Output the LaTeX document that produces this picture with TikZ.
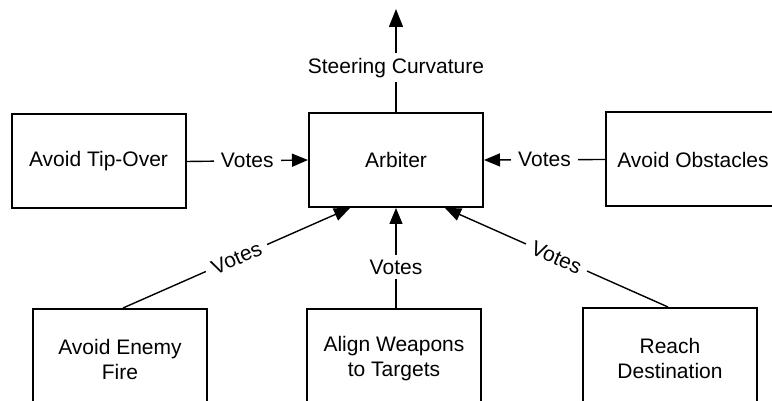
\documentclass[tikz,border=0pt]{standalone}
\usepackage{fontspec}
\setmainfont{Liberation Sans}
\usetikzlibrary{arrows.meta,calc}
\begin{document}
\begin{tikzpicture}[x=1pt,y=-1pt,
  txt/.style={font=\fontsize{21}{25}\selectfont},
  box/.style={txt, draw, line width=2pt, minimum width=174pt, minimum height=94pt, inner sep=0pt, align=center},
  lowbox/.style={box, minimum height=100pt},
  conn/.style={line width=1.4pt},
  arr/.style={conn, -{Triangle[length=16pt,width=13pt]}},
  lbl/.style={txt, fill=white, inner xsep=7pt, inner ysep=5pt}]
\useasboundingbox (0,0) rectangle (772,401);
\clip (0,0) rectangle (772,401);
\node[box] (tip) at (98.5,161.5) {Avoid Tip-Over};
\node[box] (arb) at (396,160) {Arbiter};
\node[box] (obs) at (693,159.5) {Avoid Obstacles};
\node[lowbox] (fire) at (120,359) {Avoid Enemy\\Fire};
\node[lowbox] (align) at (394,359) {Align Weapons\\to Targets};
\node[lowbox] (reach) at (670,358) {Reach\\Destination};
\coordinate (out) at (396,9);
\draw[conn, -{Triangle[length=18pt,width=14pt]}] (arb.north) -- node[lbl,pos=0.43] {Steering Curvature} (out);
\draw[arr] (tip.east) -- node[lbl] {Votes} (arb.west);
\draw[arr] (obs.west) -- node[lbl] {Votes} (arb.east);
\draw[arr] ([xshift=3pt]fire.north) -- node[lbl,sloped] {Votes} ([xshift=-46pt]arb.south);
\draw[arr] (arb.south |- align.north) -- node[lbl,pos=0.41] {Votes} (arb.south);
\draw[arr] ([xshift=-2pt]reach.north) -- node[lbl,sloped] {Votes} ([xshift=49pt]arb.south);
\end{tikzpicture}
\end{document}
